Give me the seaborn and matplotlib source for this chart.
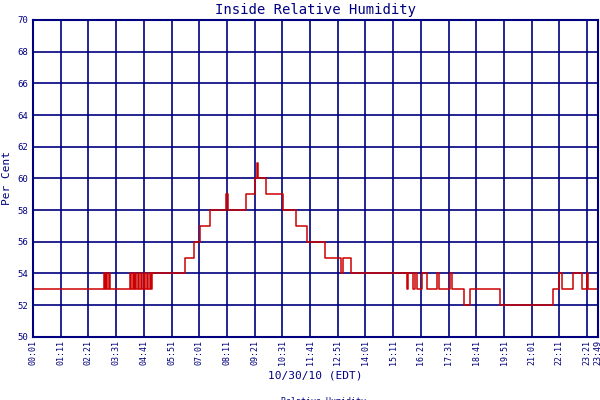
import numpy as np
import pandas as pd
import matplotlib
matplotlib.use("Agg")
import matplotlib.pyplot as plt
import seaborn as sns

# minutes since 00:01 where the reading changes, and the new value
minutes = [0, 179, 182, 184, 187, 192, 195, 245, 248, 253, 255, 258, 260, 265, 268,
           273, 275, 280, 283, 288, 291, 296, 298, 301, 384, 407, 422, 447, 488, 493,
           538, 561, 566, 569, 589, 632, 665, 692, 738, 778, 783, 804, 944, 948, 961,
           965, 971, 982, 995, 1020, 1027, 1054, 1058, 1088, 1104, 1180, 1315, 1330,
           1336, 1365, 1387, 1399, 1403, 1427, 1428]
humidity = [53, 54, 53, 54, 53, 54, 53, 54, 53, 54, 53, 54, 53, 54, 53,
            54, 53, 54, 53, 54, 53, 54, 53, 54, 55, 56, 57, 58, 59, 58,
            59, 60, 61, 60, 59, 58, 57, 56, 55, 54, 55, 54, 53, 54, 53,
            54, 53, 54, 53, 54, 53, 54, 53, 52, 53, 52, 53, 54,
            53, 54, 53, 54, 53, 54, 54]
tick_minutes = [0, 70, 140, 210, 280, 350, 420, 490, 560, 630, 700, 770, 840, 910,
                980, 1050, 1120, 1190, 1260, 1330, 1400, 1428]
tick_labels = ["00:01", "01:11", "02:21", "03:31", "04:41", "05:51", "07:01", "08:11",
               "09:21", "10:31", "11:41", "12:51", "14:01", "15:11", "16:21", "17:31",
               "18:41", "19:51", "21:01", "22:11", "23:21", "23:49"]

navy = "#000080"
df = pd.DataFrame({"minute": minutes, "rh": humidity})

sns.set_style("white")
plt.rcParams["font.family"] = ["DejaVu Sans Mono", "DejaVu Sans"]

fig = plt.figure(figsize=(6, 4), dpi=100)
ax = fig.add_axes([0.055, 0.158, 0.942, 0.792])
sns.lineplot(data=df, x="minute", y="rh", ax=ax, color="#cc0000", lw=1.1,
             drawstyle="steps-post", label="Relative Humidity")

ax.set_xlim(0, 1428)
ax.set_ylim(50, 70)
ax.set_yticks(range(50, 71, 2))
ax.set_xticks(tick_minutes)
ax.set_xticklabels(tick_labels, rotation=90, fontsize=6, color=navy)
ax.tick_params(axis="y", labelsize=6.5, labelcolor=navy, length=0)
ax.tick_params(axis="x", length=0, pad=2)
ax.grid(True, color=navy, lw=1.2)
for s in ax.spines.values():
    s.set_color(navy)
    s.set_linewidth(1.5)
ax.set_xlabel("10/30/10 (EDT)", fontsize=8, color=navy)
ax.set_ylabel("Per Cent", fontsize=8, color=navy)
ax.set_title("Inside Relative Humidity", fontsize=10, color=navy, pad=4)
leg = ax.legend(loc="upper center", bbox_to_anchor=(0.5, -0.175), frameon=False,
                fontsize=6, handlelength=1.5, handletextpad=0.3, borderpad=0.1)
for t in leg.get_texts():
    t.set_color(navy)

fig.savefig("out.png", dpi=100)
